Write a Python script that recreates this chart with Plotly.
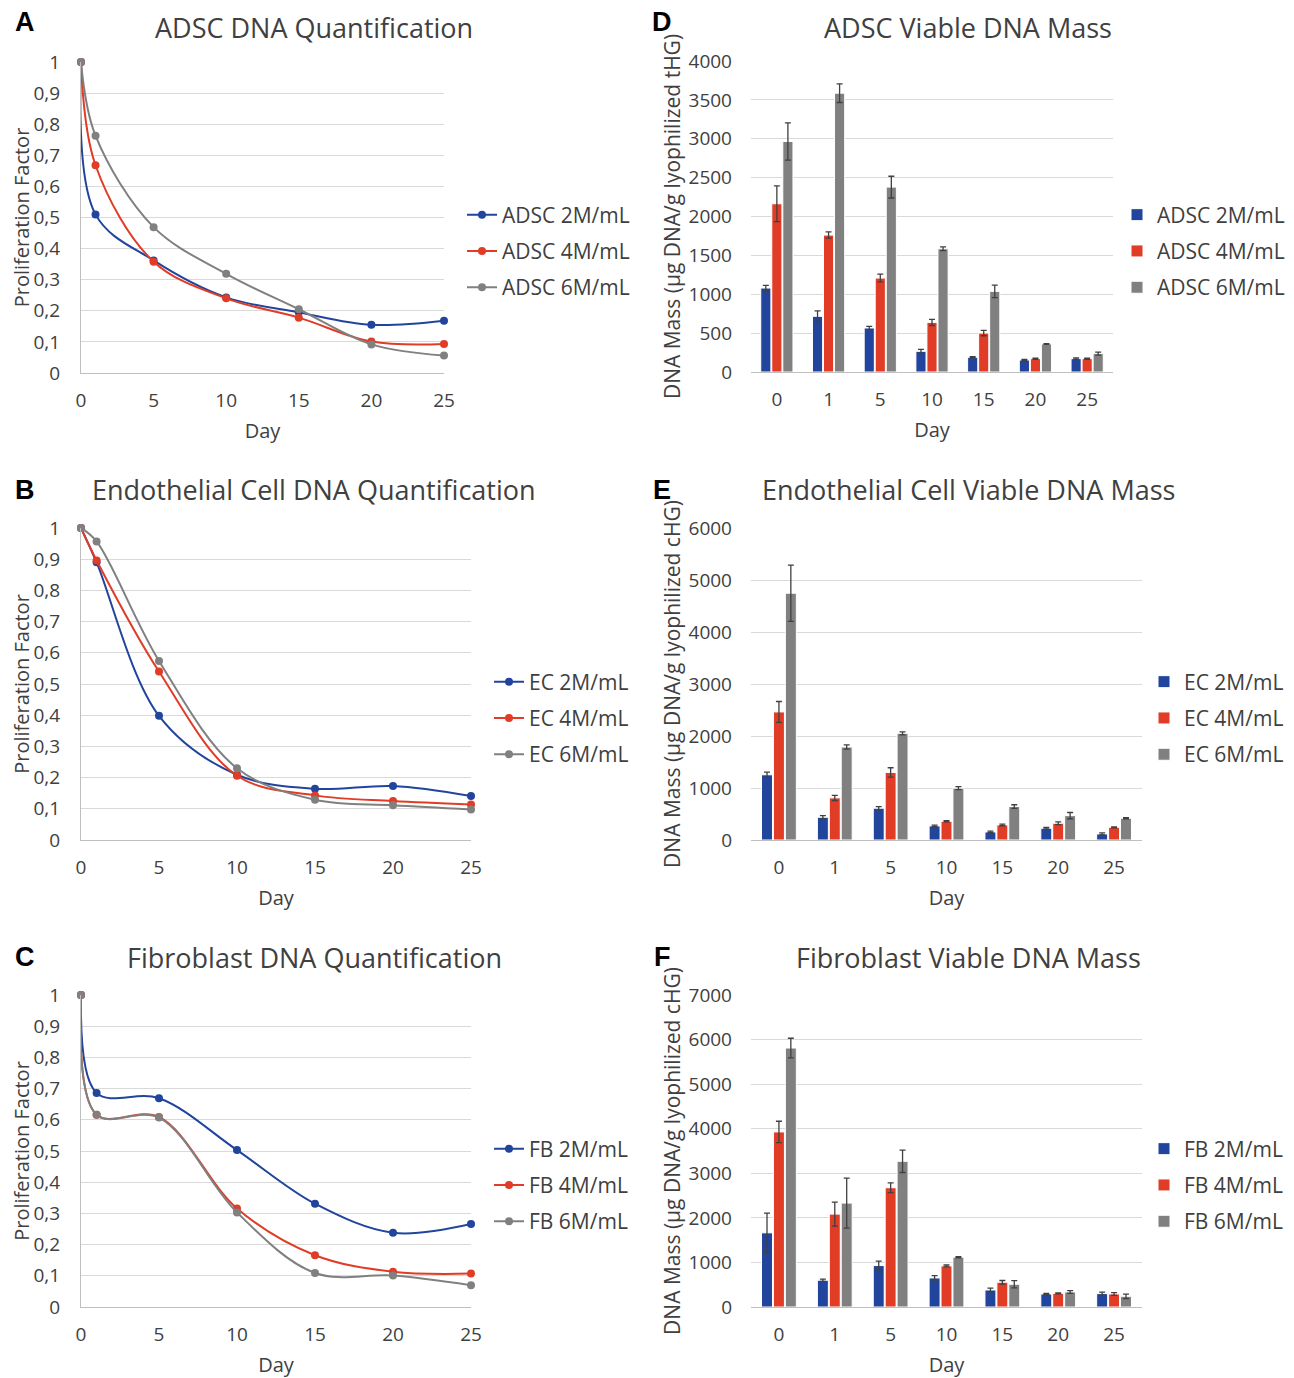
import plotly.graph_objects as go

# The page body adds an 8 px margin, so the figure is drawn 8 px smaller and
# reference pixel positions are shifted by that offset.
REF_W, REF_H = 1294, 1378
OFF = 8
W, H = REF_W - OFF, REF_H - OFF

# ---------------- data ----------------
days_num = [0, 1, 5, 10, 15, 20, 25]
days_cat = ["0", "1", "5", "10", "15", "20", "25"]

pf_ticks = [0, 0.1, 0.2, 0.3, 0.4, 0.5, 0.6, 0.7, 0.8, 0.9, 1]
pf_ticktext = ["0", "0,1", "0,2", "0,3", "0,4", "0,5", "0,6", "0,7", "0,8", "0,9", "1"]

# Panel A - ADSC proliferation factor
adsc_2m = [1, 0.51, 0.362, 0.243, 0.195, 0.155, 0.168]
adsc_4m = [1, 0.668, 0.358, 0.240, 0.178, 0.101, 0.093]
adsc_6m = [1, 0.763, 0.469, 0.319, 0.205, 0.092, 0.056]

# Panel B - EC proliferation factor
ec_2m = [1, 0.89, 0.398, 0.209, 0.164, 0.173, 0.141]
ec_4m = [1, 0.896, 0.540, 0.206, 0.143, 0.125, 0.114]
ec_6m = [1, 0.957, 0.574, 0.230, 0.129, 0.111, 0.098]

# Panel C - FB proliferation factor
fb_2m = [1, 0.686, 0.669, 0.503, 0.331, 0.238, 0.266]
fb_4m = [1, 0.616, 0.609, 0.316, 0.166, 0.113, 0.107]
fb_6m = [1, 0.616, 0.607, 0.303, 0.109, 0.101, 0.070]

# Panel D - ADSC viable DNA mass (mean, error)
adsc_mass_2m = [1080, 716, 566, 266, 189, 154, 171]
adsc_err_2m = [35, 70, 20, 25, 8, 8, 10]
adsc_mass_4m = [2164, 1761, 1208, 638, 501, 171, 171]
adsc_err_4m = [230, 40, 50, 40, 35, 8, 8]
adsc_mass_6m = [2965, 3586, 2378, 1585, 1037, 360, 236]
adsc_err_6m = [240, 120, 140, 25, 80, 5, 20]

# Panel E - EC viable DNA mass
ec_mass_2m = [1254, 437, 611, 270, 154, 225, 116]
ec_err_2m = [50, 30, 30, 15, 15, 15, 20]
ec_mass_4m = [2463, 810, 1299, 360, 289, 322, 244]
ec_err_4m = [200, 50, 90, 10, 15, 25, 10]
ec_mass_6m = [4746, 1788, 2051, 997, 643, 469, 418]
ec_err_6m = [540, 40, 30, 30, 35, 60, 10]

# Panel F - FB viable DNA mass
fb_mass_2m = [1664, 600, 930, 652, 382, 292, 300]
fb_err_2m = [440, 25, 100, 50, 40, 15, 35]
fb_mass_4m = [3928, 2084, 2676, 922, 555, 307, 292]
fb_err_4m = [240, 270, 110, 20, 40, 10, 30]
fb_mass_6m = [5810, 2331, 3268, 1117, 510, 337, 240]
fb_err_6m = [220, 560, 250, 15, 80, 30, 50]

# ---------------- style ----------------
FONT = "Open Sans"
TXT = "#404040"
BLUE = "#21449c"
RED = "#e03c26"
GRAY = "#808080"
GRID = "#d9d9d9"
AXLINE = "#bfbfbf"
COLORS = [BLUE, RED, GRAY]


def px(x):
    return (x - OFF) / W


def py(y):
    return 1 - (y - OFF) / H


fig = go.Figure()

panels = [
    dict(kind="line", letter="A", title="ADSC DNA Quantification", xd=(81, 444), yd=(62, 373),
         names=["ADSC 2M/mL", "ADSC 4M/mL", "ADSC 6M/mL"], ys=[adsc_2m, adsc_4m, adsc_6m],
         legx=462, legy=251, titlex=314, titley=22, letterx=25),
    dict(kind="line", letter="B", title="Endothelial Cell DNA Quantification", xd=(81, 471), yd=(528, 840),
         names=["EC 2M/mL", "EC 4M/mL", "EC 6M/mL"], ys=[ec_2m, ec_4m, ec_6m],
         legx=489, legy=718, titlex=314, titley=490, letterx=25),
    dict(kind="line", letter="C", title="Fibroblast DNA Quantification", xd=(81, 471), yd=(995, 1307),
         names=["FB 2M/mL", "FB 4M/mL", "FB 6M/mL"], ys=[fb_2m, fb_4m, fb_6m],
         legx=489, legy=1185, titlex=314, titley=957, letterx=25),
    dict(kind="bar", letter="D", title="ADSC Viable DNA Mass", xd=(751, 1113), yd=(61, 372),
         names=["ADSC 2M/mL", "ADSC 4M/mL", "ADSC 6M/mL"],
         ys=[adsc_mass_2m, adsc_mass_4m, adsc_mass_6m], errs=[adsc_err_2m, adsc_err_4m, adsc_err_6m],
         ymax=4000, dtick=500, ytitle="DNA Mass (µg DNA/g lyophilized tHG)",
         legx=1117, legy=251, titlex=968, titley=22, letterx=662),
    dict(kind="bar", letter="E", title="Endothelial Cell Viable DNA Mass", xd=(751, 1142), yd=(528, 840),
         names=["EC 2M/mL", "EC 4M/mL", "EC 6M/mL"],
         ys=[ec_mass_2m, ec_mass_4m, ec_mass_6m], errs=[ec_err_2m, ec_err_4m, ec_err_6m],
         ymax=6000, dtick=1000, ytitle="DNA Mass (µg DNA/g lyophilized cHG)",
         legx=1144, legy=718, titlex=968, titley=490, letterx=662),
    dict(kind="bar", letter="F", title="Fibroblast Viable DNA Mass", xd=(751, 1142), yd=(995, 1307),
         names=["FB 2M/mL", "FB 4M/mL", "FB 6M/mL"],
         ys=[fb_mass_2m, fb_mass_4m, fb_mass_6m], errs=[fb_err_2m, fb_err_4m, fb_err_6m],
         ymax=7000, dtick=1000, ytitle="DNA Mass (µg DNA/g lyophilized cHG)",
         legx=1144, legy=1185, titlex=968, titley=957, letterx=662),
]

annotations = []
layout_extra = {}

for i, p in enumerate(panels):
    n = i + 1
    xa = "x" if n == 1 else f"x{n}"
    ya = "y" if n == 1 else f"y{n}"
    lg = "legend" if n == 1 else f"legend{n}"
    xkey = "xaxis" if n == 1 else f"xaxis{n}"
    ykey = "yaxis" if n == 1 else f"yaxis{n}"

    for j in range(3):
        if p["kind"] == "line":
            fig.add_trace(go.Scatter(
                x=days_num, y=p["ys"][j], name=p["names"][j], mode="lines+markers",
                line=dict(color=COLORS[j], width=2, shape="spline", smoothing=1.0),
                marker=dict(color=COLORS[j], size=8),
                xaxis=xa, yaxis=ya, legend=lg, legendgroup=f"g{n}_{j}", cliponaxis=False,
            ))
        else:
            fig.add_trace(go.Bar(
                x=days_cat, y=p["ys"][j], name=p["names"][j],
                marker=dict(color=COLORS[j], line=dict(color="white", width=1)),
                error_y=dict(type="data", array=p["errs"][j], color="#404040", thickness=1.3, width=3),
                xaxis=xa, yaxis=ya, legend=lg, legendgroup=f"g{n}_{j}", offsetgroup=str(j),
            ))

    xdom = [px(p["xd"][0]), px(p["xd"][1])]
    ydom = [py(p["yd"][1]), py(p["yd"][0])]

    if p["kind"] == "line":
        layout_extra[xkey] = dict(
            domain=xdom, anchor=ya, range=[0, 25], tickvals=[0, 5, 10, 15, 20, 25],
            showgrid=False, zeroline=False, showline=True, linecolor=AXLINE, linewidth=1.3,
            ticks="", ticklabelstandoff=10, tickfont=dict(family=FONT, size=19, color=TXT),
            title=dict(text="Day", font=dict(family=FONT, size=20, color=TXT), standoff=12),
        )
        layout_extra[ykey] = dict(
            domain=ydom, anchor=xa, range=[0, 1], tickvals=pf_ticks, ticktext=pf_ticktext,
            showgrid=True, gridcolor=GRID, gridwidth=1, zeroline=False,
            showline=True, linecolor=AXLINE, linewidth=1.3,
            ticks="", ticklabelstandoff=16, tickfont=dict(family=FONT, size=19, color=TXT),
            title=dict(text="Proliferation Factor", font=dict(family=FONT, size=20, color=TXT), standoff=3),
        )
    else:
        layout_extra[xkey] = dict(
            domain=xdom, anchor=ya, type="category", range=[-0.5, 6.5],
            showgrid=False, zeroline=False, showline=True, linecolor=AXLINE, linewidth=1.3,
            ticks="", ticklabelstandoff=10, tickfont=dict(family=FONT, size=19, color=TXT),
            title=dict(text="Day", font=dict(family=FONT, size=20, color=TXT), standoff=12),
        )
        layout_extra[ykey] = dict(
            domain=ydom, anchor=xa, range=[0, p["ymax"]], dtick=p["dtick"], tick0=0,
            showgrid=True, gridcolor=GRID, gridwidth=1, zeroline=False, showline=False,
            ticks="", ticklabelstandoff=18, tickfont=dict(family=FONT, size=19, color=TXT),
            title=dict(text=p["ytitle"], font=dict(family=FONT, size=21, color=TXT), standoff=2),
        )

    layout_extra[lg] = dict(
        x=px(p["legx"]), y=py(p["legy"]), xanchor="left", yanchor="middle",
        font=dict(family=FONT, size=21, color=TXT), bgcolor="rgba(0,0,0,0)",
        tracegroupgap=6, traceorder="grouped",
    )

    annotations.append(dict(
        text=f"<b>{p['letter']}</b>", x=px(p["letterx"]), y=py(p["titley"]),
        xref="paper", yref="paper", xanchor="center", yanchor="middle", showarrow=False,
        font=dict(family="Liberation Sans, Arial", size=27, color="black"),
    ))
    # keep the title box inside the figure: top-row titles are anchored at the figure top
    top_row = p["titley"] < 60
    annotations.append(dict(
        text=p["title"], x=px(p["titlex"]),
        y=1.0 if top_row else py(p["titley"]),
        xref="paper", yref="paper", xanchor="center",
        yanchor="top" if top_row else "middle", showarrow=False, borderpad=0,
        font=dict(family=FONT, size=27, color=TXT),
    ))

fig.update_layout(
    width=W, height=H, margin=dict(l=0, r=0, t=0, b=0, autoexpand=False),
    paper_bgcolor="white", plot_bgcolor="white",
    barmode="group", bargap=0.36, bargroupgap=0.08,
    font=dict(family=FONT, color=TXT),
    annotations=annotations,
    **layout_extra,
)

fig.write_html("out.html")
